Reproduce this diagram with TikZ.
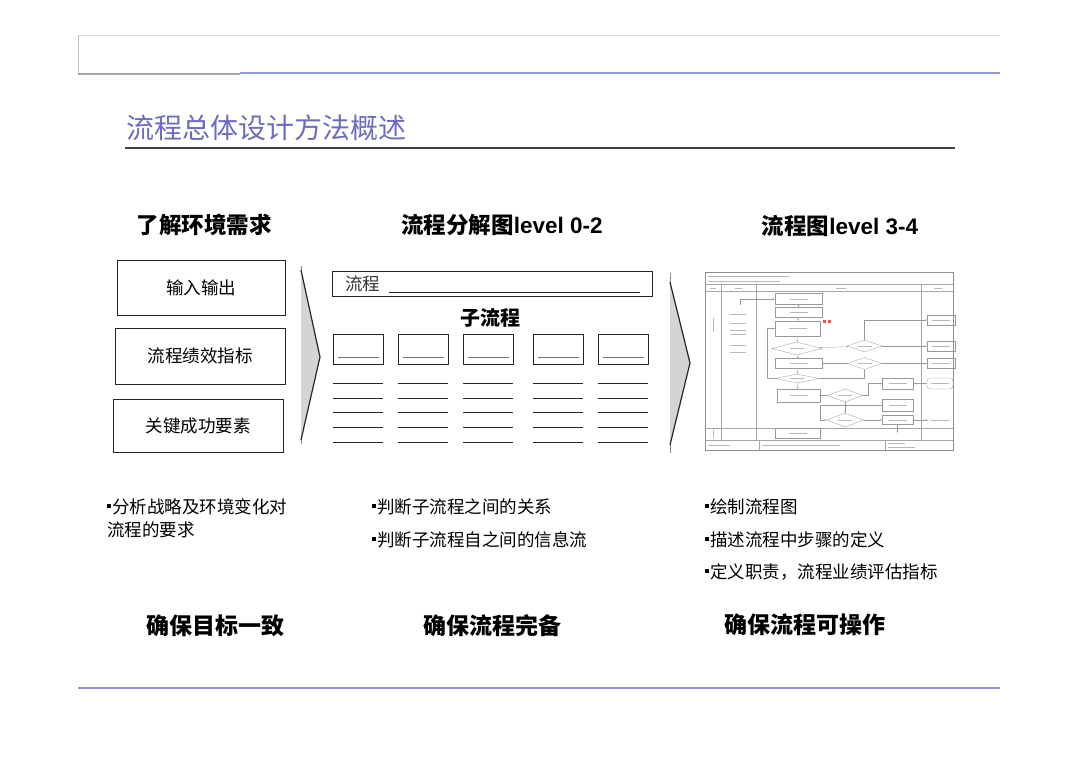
\documentclass[tikz,border=0pt]{standalone}
\usepackage{fontspec}
\setmainfont{Liberation Sans}
\newfontfamily\cjk{Noto Sans CJK SC}
\newfontfamily\lat{Liberation Sans}
\usetikzlibrary{positioning,shapes.geometric,arrows.meta}
\definecolor{titleblue}{RGB}{108,108,192}
\definecolor{ruleblue}{RGB}{150,150,218}
\definecolor{arrowgray}{RGB}{212,212,212}
\newcommand\headf{\cjk\bfseries\fontsize{22.5}{25}\selectfont}
\newcommand\goalf{\cjk\bfseries\fontsize{23}{26}\selectfont}
\newcommand\bodyf{\cjk\fontsize{17.5}{20}\selectfont}
\newcommand\sqb{\rule[5.5pt]{4pt}{4pt}\hspace{1pt}}

\begin{document}
\begin{tikzpicture}[x=1pt,y=-1pt,>=stealth,
  lbox/.style={draw=black!85,line width=1pt,minimum width=168pt,minimum height=55pt,inner sep=0pt,font=\bodyf},
  subbox/.style={draw=black!85,line width=.9pt,minimum width=50pt,minimum height=30pt,inner sep=0pt},
  bul/.style={anchor=west,inner sep=0pt,font=\bodyf},
  fc/.style={draw=black!40,line width=.3pt,inner sep=0pt},
  fcd/.style={fc,diamond,aspect=3},
  fcl/.style={draw=black!40,line width=.3pt,-{Stealth[length=1.8pt,width=1.6pt]}},
  fct/.style={draw=black!28,line width=.6pt}]
\fill[white] (0,0) rectangle (1080,763);
\useasboundingbox (0,0) rectangle (1080,763);
% page frame and rules
\draw[black!15,line width=.8pt] (78,35) -- (1000,35);
\draw[black!25,line width=.8pt] (78,35) -- (78,74);
\draw[black!35,line width=1.5pt] (78,74) -- (240,74);
\draw[ruleblue,line width=2pt] (240,73) -- (1000,73);
\draw[ruleblue,line width=2pt] (78,688) -- (1000,688);
\node[anchor=west,inner sep=0pt,text=titleblue,font=\cjk\fontsize{28}{31}\selectfont] (title) at (126,128) {流程总体设计方法概述};
\draw[black!75,line width=1.6pt] (125,148) -- (955,148);
% column heads
\node[font=\headf] (h1) at (204,225) {了解环境需求};
\node[font=\headf] (h2) at (502,225) {流程分解图{\lat level 0-2}};
\node[font=\headf] (h3) at (840,226) {流程图{\lat level 3-4}};
% left boxes
\node[lbox] (in) at (201,287.5) {输入输出};
\node[lbox,minimum width=170pt,minimum height=56pt] (kpi) at (200,356) {流程绩效指标};
\node[lbox,minimum width=170pt,minimum height=53pt] (csf) at (198,425.5) {关键成功要素};
% big arrows
\draw[black!45,line width=.5pt] (301,266) -- (301,444);
\fill[arrowgray] (301,270) -- (320,357) -- (301,440) -- cycle;
\draw[black!85,line width=1.2pt,line join=round] (301,270) -- (320,357) -- (301,440);
\draw[black!45,line width=.5pt] (670,273) -- (670,453);
\fill[arrowgray] (670,282) -- (690,363) -- (670,445) -- cycle;
\draw[black!85,line width=1.2pt,line join=round] (670,282) -- (690,363) -- (670,445);
% level 0-2 sketch
\node[draw=black!85,line width=.9pt,minimum width=320pt,minimum height=25pt,inner sep=0pt] (proc) at (492,283.5) {};
\node[anchor=west,inner sep=0pt,font=\bodyf,text=black!80] (proct) at (345,284) {流程};
\draw[black!85,line width=.8pt] (389,292) -- (640,292);
\node[font=\cjk\bfseries\fontsize{20}{23}\selectfont] (sub) at (490,318) {子流程};
\foreach \x in {333,398,463,533,598}{
  \node[subbox,anchor=north west] (s\x) at (\x,334) {};
  \draw[black!55,line width=.6pt] ([xshift=5pt,yshift=8pt]s\x.south west) -- ([xshift=-5pt,yshift=8pt]s\x.south east);
  \foreach \y in {383,398,412,427,442}
    \draw[black!85,line width=.9pt] (\x,\y) -- ++(50,0);
}
% flow chart thumbnail
\draw[black!45,line width=.5pt] (705,272) rectangle (953,450);
\foreach \y in {284,291,428,440} \draw[black!35,line width=.3pt] (705,\y) -- (953,\y);
\foreach \x in {721,756,921} \draw[black!35,line width=.3pt] (\x,284) -- (\x,440);
\foreach \x in {759,885} \draw[black!35,line width=.3pt] (\x,440) -- (\x,450);
\draw[fct] (708,276) -- (790,276);
\draw[fct] (708,281) -- (780,281);
\foreach \a/\b in {710/716,735/742,836/846,934/942} \draw[fct] (\a,288) -- (\b,288);
\draw[fct] (713,318) -- (713,332);
\draw[fct] (713,430) -- (713,438);
\draw[fct] (708,445) -- (730,445);
\draw[fct] (762,445) -- (840,445);
\draw[fct] (888,443) -- (905,443);
\draw[fct] (888,447) -- (915,447);
\foreach \y in {314,323,330,334,345,352} \draw[fct] (730,\y) -- (746,\y);
\node[fc,minimum width=47pt,minimum height=11pt] (B1) at (798.5,299) {};
\node[fc,minimum width=47pt,minimum height=10pt] (B2) at (798.5,312) {};
\node[fc,minimum width=45pt,minimum height=15pt] (B3) at (797.5,328.5) {};
\node[fcd,minimum width=50pt,minimum height=13pt] (D1) at (797,348.5) {};
\node[fc,minimum width=47pt,minimum height=10pt] (B4) at (798.5,363.5) {};
\node[fcd,minimum width=44pt,minimum height=9pt] (D2) at (797,378.5) {};
\node[fc,minimum width=43pt,minimum height=13pt] (B5) at (798.5,395.5) {};
\node[fc,minimum width=45pt,minimum height=10pt] (B6) at (797.5,433.5) {};
\node[fcd,minimum width=35pt,minimum height=12pt] (D3) at (864.5,346) {};
\node[fcd,minimum width=35pt,minimum height=12pt] (D4) at (864.5,363.5) {};
\node[fcd,minimum width=36pt,minimum height=13pt] (D5) at (845,395.5) {};
\node[fcd,minimum width=37pt,minimum height=14pt] (D6) at (845,420) {};
\node[fc,minimum width=31pt,minimum height=11pt] (B7) at (897.5,383.5) {};
\node[fc,minimum width=31pt,minimum height=12pt] (B8) at (897.5,405) {};
\node[fc,minimum width=31pt,minimum height=9pt] (B9) at (897.5,420) {};
\node[fc,minimum width=28pt,minimum height=10pt] (O1) at (941,320) {};
\node[fc,minimum width=28pt,minimum height=10pt] (O2) at (941,346) {};
\node[fc,minimum width=28pt,minimum height=10pt] (O3) at (941,363.5) {};
\node[fc,rounded corners=3pt,minimum width=26pt,minimum height=11pt] (O4) at (940,383.5) {};
\node[inner sep=0pt,minimum width=24pt,minimum height=6pt] (O5) at (940,420) {};
\foreach \n in {B1,B2,B3,B4,B5,B6,B7,B8,B9,O1,O2,O3,O4,O5}
  \draw[fct] ([xshift=-9pt]\n.center) -- ([xshift=9pt]\n.center);
\foreach \n in {D1,D2,D3,D4,D5,D6}
  \draw[fct] ([xshift=-7pt]\n.center) -- ([xshift=7pt]\n.center);
\fill[red!70] (823,320) rectangle ++(3,2.5);
\fill[red!70] (828,320) rectangle ++(3,2.5);
\coordinate (i0) at (740,305);
\draw[fcl] (i0) |- (B1);
\draw[fcl] (B1) -- (B2);
\draw[fcl] (B2) -- (B3);
\draw[fcl] (B3) -- (D1);
\draw[fcl] (D1) -- (B4);
\draw[fcl] (B4) -- (D2);
\draw[fcl] (D2) -- (B5);
\draw[fcl] (D2.west) -- ++(-8,0) |- (B3.west);
\draw[fcl] (D1) -- (D3);
\draw[fcl] (D3) -- (O2);
\draw[fcl] (D3.north) |- (O1);
\draw[fcl] (D4) -- (B4);
\draw[fcl] (D4) -- (O3);
\draw[fcl] (D4.south) |- (D2.east);
\draw[fcl] (D5) -- (B5);
\draw[fcl] (D5.east) -- ++(5,0) |- (B7.west);
\draw[fcl] (B7) -- (O4);
\draw[fcl] (B8.west) -- ++(-62,0) |- (D6.west);
\draw[fcl] (D5.south) -- (D6.north);
\draw[fcl] (D6) -- (B9);
\draw[fcl] (B9) -- (O5);
\draw[fcl] (B9.south) -- ++(0,8);
% bullets
\node[bul] (a1) at (107,507) {\sqb 分析战略及环境变化对};
\node[bul] (a2) at (107,530) {流程的要求};
\node[bul] (b1) at (372,507) {\sqb 判断子流程之间的关系};
\node[bul] (b2) at (372,540) {\sqb 判断子流程自之间的信息流};
\node[bul] (c1) at (705,507) {\sqb 绘制流程图};
\node[bul] (c2) at (705,540) {\sqb 描述流程中步骤的定义};
\node[bul] (c3) at (705,572) {\sqb 定义职责，流程业绩评估指标};
% goals
\node[font=\goalf] (g1) at (215,626) {确保目标一致};
\node[font=\goalf] (g2) at (492,626) {确保流程完备};
\node[font=\goalf] (g3) at (805,625) {确保流程可操作};
\end{tikzpicture}
\end{document}
